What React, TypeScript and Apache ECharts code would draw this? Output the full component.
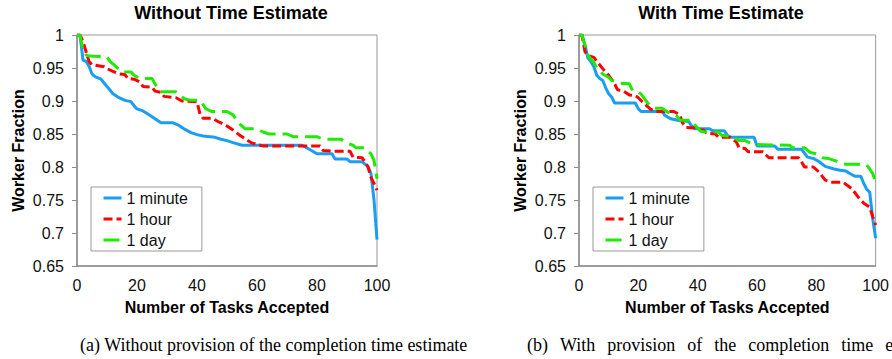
import React, { useEffect, useRef } from "react";
import * as echarts from "echarts";

// Without time estimate
const withoutMinute: [number, number][] = [
  [0, 1], [1, 1], [2, 0.962], [3, 0.96], [4, 0.953], [5, 0.941], [6, 0.937], [8, 0.933], [10, 0.922],
  [12, 0.911], [14, 0.905], [16, 0.901], [18, 0.899], [19, 0.893], [20, 0.888], [22, 0.885], [24, 0.879],
  [26, 0.873], [28, 0.867], [32, 0.867], [34, 0.863], [36, 0.857], [38, 0.852], [40, 0.849], [42, 0.847],
  [46, 0.845], [48, 0.842], [50, 0.84], [52, 0.837], [55, 0.833], [75, 0.833], [77, 0.828], [80, 0.82],
  [85, 0.82], [86, 0.812], [90, 0.812], [91, 0.808], [95, 0.808], [97, 0.801], [98, 0.79], [99, 0.75], [100, 0.69],
];
const withoutHour: [number, number][] = [
  [0, 1], [1, 1], [2, 0.99], [3, 0.975], [4, 0.96], [5, 0.955], [9, 0.952], [10, 0.949], [12, 0.945],
  [14, 0.941], [16, 0.94], [17, 0.934], [19, 0.933], [21, 0.929], [22, 0.922], [25, 0.921], [26, 0.915],
  [28, 0.913], [29, 0.907], [33, 0.905], [35, 0.9], [40, 0.899], [41, 0.88], [42, 0.874], [45, 0.874],
  [47, 0.869], [50, 0.862], [52, 0.856], [54, 0.849], [56, 0.843], [58, 0.837], [60, 0.834], [62, 0.832],
  [81, 0.832], [82, 0.825], [85, 0.824], [91, 0.824], [92, 0.815], [95, 0.814], [96, 0.808], [97, 0.8],
  [98, 0.784], [99, 0.775], [100, 0.765],
];
const withoutDay: [number, number][] = [
  [0, 1], [1, 1], [2, 0.977], [3, 0.97], [4, 0.968], [10, 0.967], [11, 0.96], [13, 0.952], [15, 0.944],
  [18, 0.944], [19, 0.939], [21, 0.934], [25, 0.934], [26, 0.926], [27, 0.918], [28, 0.914], [33, 0.914],
  [35, 0.906], [36, 0.903], [38, 0.901], [41, 0.901], [43, 0.888], [45, 0.884], [50, 0.884], [52, 0.879],
  [54, 0.866], [56, 0.858], [60, 0.858], [62, 0.853], [64, 0.85], [70, 0.85], [72, 0.846], [80, 0.846],
  [82, 0.842], [88, 0.842], [90, 0.836], [92, 0.833], [93, 0.829], [96, 0.829], [97, 0.824], [98, 0.82],
  [99, 0.81], [100, 0.782],
];

// With time estimate
const withMinute: [number, number][] = [
  [0, 1], [1, 1], [2, 0.985], [3, 0.965], [4, 0.96], [5, 0.952], [6, 0.939], [7, 0.934], [8, 0.931],
  [9, 0.92], [10, 0.911], [11, 0.906], [12, 0.897], [19, 0.897], [20, 0.888], [21, 0.884], [28, 0.884],
  [29, 0.878], [31, 0.873], [34, 0.87], [37, 0.869], [38, 0.862], [39, 0.858], [44, 0.858], [45, 0.855],
  [49, 0.855], [50, 0.848], [51, 0.845], [59, 0.845], [60, 0.832], [66, 0.832], [67, 0.827], [75, 0.827],
  [77, 0.815], [79, 0.813], [81, 0.808], [83, 0.801], [86, 0.797], [88, 0.795], [90, 0.794], [91, 0.791],
  [93, 0.786], [95, 0.786], [96, 0.775], [97, 0.766], [98, 0.762], [99, 0.722], [100, 0.692],
];
const withHour: [number, number][] = [
  [0, 1], [1, 1], [2, 0.975], [3, 0.969], [5, 0.966], [6, 0.96], [8, 0.949], [10, 0.939], [12, 0.926],
  [13, 0.917], [15, 0.915], [17, 0.909], [19, 0.908], [20, 0.905], [22, 0.896], [24, 0.888], [26, 0.884],
  [32, 0.884], [34, 0.879], [35, 0.866], [36, 0.86], [39, 0.859], [40, 0.856], [42, 0.856], [43, 0.851],
  [46, 0.85], [47, 0.845], [51, 0.845], [53, 0.838], [54, 0.829], [56, 0.828], [57, 0.823], [62, 0.823],
  [64, 0.814], [74, 0.814], [75, 0.808], [76, 0.8], [79, 0.8], [81, 0.792], [83, 0.78], [85, 0.777],
  [89, 0.777], [92, 0.767], [94, 0.755], [96, 0.745], [98, 0.739], [99, 0.725], [100, 0.712],
];
const withDay: [number, number][] = [
  [0, 1], [1, 1], [2, 0.985], [3, 0.97], [4, 0.963], [5, 0.959], [6, 0.95], [8, 0.941], [10, 0.936],
  [11, 0.931], [13, 0.93], [14, 0.927], [17, 0.926], [18, 0.916], [20, 0.914], [21, 0.91], [23, 0.898],
  [24, 0.892], [26, 0.889], [28, 0.889], [30, 0.883], [32, 0.881], [33, 0.877], [34, 0.871], [38, 0.871],
  [39, 0.864], [41, 0.854], [43, 0.853], [47, 0.853], [48, 0.848], [50, 0.847], [52, 0.845], [54, 0.84],
  [56, 0.84], [58, 0.836], [60, 0.834], [71, 0.833], [72, 0.829], [76, 0.829], [78, 0.822], [80, 0.82],
  [82, 0.814], [84, 0.813], [86, 0.81], [88, 0.807], [90, 0.804], [94, 0.804], [97, 0.803], [98, 0.797],
  [99, 0.79], [100, 0.777],
];

const seriesNames = ["1 minute", "1 hour", "1 day"];
const panelTitles = ["Without Time Estimate", "With Time Estimate"];
const captionA = "(a) Without provision of the completion time estimate";
const captionBWords = ["(b)", "With", "provision", "of", "the", "completion", "time", "estimate"];
const xAxisName = "Number of Tasks Accepted";
const yAxisName = "Worker Fraction";

const SANS = '"Liberation Sans", Arial, sans-serif';
const SERIF = '"Liberation Serif", "Times New Roman", serif';
const CAPTION_FONT = `18px ${SERIF}`;
const COLORS = ["#1A9DF2", "#FF0000", "#1EEB00"];
const DASHES: any[] = ["solid", [9, 4], [16, 7]];

export default function App() {
  const ref = useRef<HTMLDivElement>(null);
  useEffect(() => {
    if (!ref.current) return;
    const chart = echarts.init(ref.current, undefined, { renderer: "svg" });
    const grids = [
      { left: 77, top: 35, width: 300, height: 231 },
      { left: 579, top: 35, width: 301, height: 231 },
    ];
    const panels = [
      [withoutMinute, withoutHour, withoutDay],
      [withMinute, withHour, withDay],
    ];
    const xAxes = grids.map((_, i) => ({
      type: "value",
      gridIndex: i,
      min: 0,
      max: 100,
      interval: 20,
      name: xAxisName,
      nameLocation: "middle",
      nameGap: 33,
      nameTextStyle: { fontFamily: SANS, fontSize: 16, fontWeight: "bold", color: "#000" },
      axisLine: { show: true, lineStyle: { color: "#8c8c8c", width: 1.5 } },
      axisTick: { show: false },
      splitLine: { show: false },
      axisLabel: { fontFamily: SANS, fontSize: 16, color: "#111", margin: 11 },
    }));
    const yAxes = grids.map((_, i) => ({
      type: "value",
      gridIndex: i,
      min: 0.65,
      max: 1,
      interval: 0.05,
      name: yAxisName,
      nameLocation: "middle",
      nameRotate: 90,
      nameGap: 51,
      nameTextStyle: { fontFamily: SANS, fontSize: 16, fontWeight: "bold", color: "#000" },
      axisLine: { show: true, lineStyle: { color: "#8c8c8c", width: 1.5 } },
      axisTick: { show: true, inside: false, length: 5, lineStyle: { color: "#8c8c8c", width: 1 } },
      splitLine: { show: false },
      axisLabel: {
        fontFamily: SANS,
        fontSize: 16,
        color: "#111",
        margin: 13,
        formatter: (v: number) => String(+v.toFixed(2)),
      },
    }));
    const series: any[] = [];
    panels.forEach((panel, p) => {
      panel.forEach((data, s) => {
        series.push({
          type: "line",
          name: seriesNames[s],
          xAxisIndex: p,
          yAxisIndex: p,
          data,
          showSymbol: false,
          symbol: "none",
          lineStyle: { color: COLORS[s], width: 3, type: DASHES[s] },
          itemStyle: { color: COLORS[s] },
          z: 2 + s,
        });
      });
    });
    const legends = [91, 593].map((left) => ({
      orient: "vertical",
      left,
      top: 187,
      data: seriesNames,
      itemWidth: 18,
      itemHeight: 14,
      itemGap: 5,
      itemTextGap: 5,
      padding: [3, 14, 3, 11],
      borderColor: "#999",
      borderWidth: 1,
      backgroundColor: "#fff",
      itemStyle: { color: "transparent", borderColor: "transparent", borderWidth: 0, opacity: 0 },
      lineStyle: { width: 3 },
      textStyle: { fontFamily: SANS, fontSize: 16, color: "#111", lineHeight: 16 },
      selectedMode: false,
    }));
    const graphics: any[] = [];
    [231, 721].forEach((x, i) => {
      graphics.push({
        type: "text",
        x,
        y: 13,
        style: {
          text: panelTitles[i],
          font: `bold 18px ${SANS}`,
          fill: "#000",
          textAlign: "center",
          textVerticalAlign: "middle",
        },
      });
    });
    graphics.push({
      type: "text",
      x: 80,
      y: 345,
      style: { text: captionA, font: CAPTION_FONT, fill: "#000", textAlign: "left", textVerticalAlign: "middle" },
    });
    // caption (b) is a justified (stretched) first line in the reference
    const ctx = document.createElement("canvas").getContext("2d");
    let cx = 527;
    const spaceW = 12;
    captionBWords.forEach((w) => {
      graphics.push({
        type: "text",
        x: cx,
        y: 345,
        style: { text: w, font: CAPTION_FONT, fill: "#000", textAlign: "left", textVerticalAlign: "middle" },
      });
      let ww = w.length * 8;
      if (ctx) {
        ctx.font = CAPTION_FONT;
        ww = ctx.measureText(w).width;
      }
      cx += ww + spaceW;
    });
    chart.setOption({
      animation: false,
      backgroundColor: "#fff",
      grid: grids.map((g) => ({ ...g, show: true, borderColor: "#999", borderWidth: 1, backgroundColor: "transparent" })),
      xAxis: xAxes,
      yAxis: yAxes,
      legend: legends,
      series,
      graphic: graphics,
    });
    return () => chart.dispose();
  }, []);
  return (
    <div
      ref={ref}
      style={{ position: "absolute", left: 0, top: 0, width: 892, height: 359, overflow: "hidden" }}
    />
  );
}
